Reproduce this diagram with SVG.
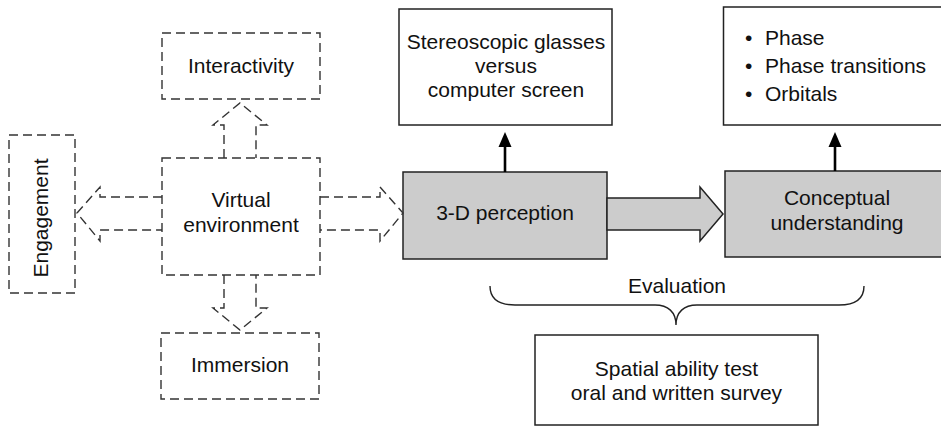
<svg xmlns="http://www.w3.org/2000/svg" width="941" height="426" viewBox="0 0 941 426">
<defs>
<style>
text{font-family:"Liberation Sans",Arial,sans-serif;font-size:21px;fill:#111;}
.c{text-anchor:middle;}
.dash{fill:none;stroke:#333;stroke-width:1.4;stroke-dasharray:9 5;}
.solid{fill:#fff;stroke:#222;stroke-width:1.5;}
.grey{fill:#cccccc;stroke:#222;stroke-width:1.5;}
.thick{stroke:#000;stroke-width:2.6;fill:none;}
</style>
</defs>
<rect width="941" height="426" fill="#fff"/>

<g id="interactivity">
<rect class="dash" x="162" y="33" width="158" height="66"/>
<text class="c" x="241" y="73">Interactivity</text>
</g>
<g id="virtual-environment">
<rect class="dash" x="162" y="158" width="158" height="117"/>
<text class="c" x="241" y="207">Virtual</text>
<text class="c" x="241" y="232">environment</text>
</g>
<g id="engagement">
<rect class="dash" x="9" y="135" width="66" height="158"/>
<text class="c" transform="translate(48,218) rotate(-90)">Engagement</text>
</g>
<g id="immersion">
<rect class="dash" x="161" y="333" width="158" height="66"/>
<text class="c" x="240" y="372">Immersion</text>
</g>
<g id="stereoscopic">
<rect class="solid" x="399" y="9" width="213" height="116"/>
<text class="c" x="506" y="49">Stereoscopic glasses</text>
<text class="c" x="506" y="73">versus</text>
<text class="c" x="506" y="97">computer screen</text>
</g>
<g id="perception">
<rect class="grey" x="403" y="172" width="204" height="87"/>
<text class="c" x="505" y="220">3-D perception</text>
</g>
<g id="topics">
<rect class="solid" x="723.5" y="7" width="226" height="118"/>
<text x="745" y="45">•</text><text x="765" y="45">Phase</text>
<text x="745" y="73">•</text><text x="765" y="73">Phase transitions</text>
<text x="745" y="101">•</text><text x="765" y="101">Orbitals</text>
</g>
<g id="conceptual">
<rect class="grey" x="725" y="171" width="224" height="86"/>
<text class="c" x="837" y="205">Conceptual</text>
<text class="c" x="837" y="230">understanding</text>
</g>
<g id="evaluation">
<text class="c" x="677" y="293">Evaluation</text>
<path d="M490,286 C490,299 499,305 515,305 L655,305 C668,305 676,312 676,325 C676,312 684,305 697,305 L839,305 C855,305 864,299 864,286" fill="none" stroke="#222" stroke-width="1.4"/>
</g>
<g id="spatial">
<rect class="solid" x="535" y="335" width="283" height="90"/>
<text class="c" x="676.5" y="376">Spatial ability test</text>
<text class="c" x="676.5" y="400">oral and written survey</text>
</g>

<g id="connectors">
<polyline class="dash" points="224,158 224,125 213,125 240,103 267,125 256,125 256,158"/>
<polyline class="dash" points="224,275 224,308 213,308 240,330 267,308 256,308 256,275"/>
<polyline class="dash" points="162,197 100,197 100,187 77,213 100,241 100,230 162,230"/>
<polyline class="dash" points="320,197 380,197 380,187 403,213 380,241 380,230 320,230"/>
<polygon class="grey" points="607,198 700,198 700,187 723,214 700,241 700,230 607,230"/>
<line class="thick" x1="505" y1="172" x2="505" y2="142"/>
<polygon points="505,132 498.5,147 511.5,147" fill="#000"/>
<line class="thick" x1="835" y1="171" x2="835" y2="142"/>
<polygon points="835,132 828.5,147 841.5,147" fill="#000"/>
</g>
</svg>
